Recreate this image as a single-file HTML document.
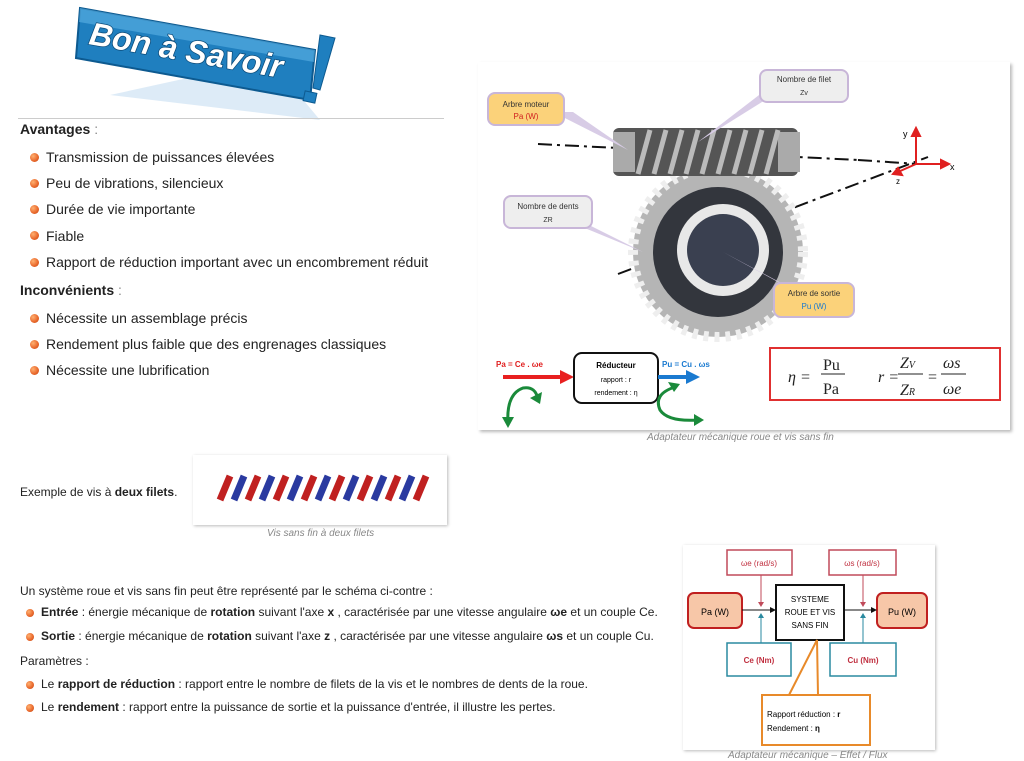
<!DOCTYPE html>
<html><head><meta charset="utf-8"><style>
body{margin:0;width:1024px;height:757px;background:#fff;position:relative;overflow:hidden;font-family:"Liberation Sans",sans-serif;color:#222}
.a{position:absolute;white-space:nowrap}
.t14{font-size:14px}
.t12{font-size:12px}
.bul{position:absolute;width:9px;height:9px;border-radius:50%;background:radial-gradient(circle at 35% 35%,#ffb070,#e8662a 60%,#b84a18)}
.cap{font-size:10px;color:#888;font-style:italic}
</style></head><body>
<!-- logo -->
<svg class="a" style="left:70px;top:0" width="275" height="120">
<polygon points="40,95 250,120 200,60" fill="#cfe3f3" opacity=".7"/>
<polygon points="10,8 245,50 240,100 6,58" fill="#1f7fbf" stroke="#0d5a90" stroke-width="2"/>
<polygon points="10,8 245,50 244,62 9,22" fill="#5db3e6" opacity=".6"/>
<text x="18" y="44" font-family="Liberation Sans" font-weight="bold" font-style="italic" font-size="32" fill="#fff" stroke="#0b4a78" stroke-width="1.5" paint-order="stroke" transform="rotate(10 18 44)">Bon à Savoir</text>
<polygon points="250,35 265,38 250,90 243,88" fill="#1f7fbf" stroke="#0d5a90"/>
<rect x="234" y="92" width="12" height="10" fill="#1f7fbf" stroke="#0d5a90" transform="rotate(12 240 97)"/>
</svg>
<div class="a" style="left:18px;top:118px;width:426px;border-top:1px solid #ccc"></div>
<div class="a t14" style="left:20px;top:121px"><b>Avantages</b> <span style="color:#888">:</span></div>
<div class="bul" style="left:30px;top:153px"></div><div class="a t14" style="left:46px;top:149px">Transmission de puissances élevées</div>
<div class="bul" style="left:30px;top:179px"></div><div class="a t14" style="left:46px;top:175px">Peu de vibrations, silencieux</div>
<div class="bul" style="left:30px;top:205px"></div><div class="a t14" style="left:46px;top:201px">Durée de vie importante</div>
<div class="bul" style="left:30px;top:231px"></div><div class="a t14" style="left:46px;top:228px">Fiable</div>
<div class="bul" style="left:30px;top:258px"></div><div class="a t14" style="left:46px;top:254px">Rapport de réduction important avec un encombrement réduit</div>
<div class="a t14" style="left:20px;top:282px"><b>Inconvénients</b> <span style="color:#888">:</span></div>
<div class="bul" style="left:30px;top:314px"></div><div class="a t14" style="left:46px;top:310px">Nécessite un assemblage précis</div>
<div class="bul" style="left:30px;top:340px"></div><div class="a t14" style="left:46px;top:336px">Rendement plus faible que des engrenages classiques</div>
<div class="bul" style="left:30px;top:366px"></div><div class="a t14" style="left:46px;top:362px">Nécessite une lubrification</div>

<!-- right figure -->
<div class="a" style="left:478px;top:62px;width:532px;height:368px;background:#fff;box-shadow:2px 2px 3px #bbb"></div>
<svg class="a" style="left:478px;top:62px" width="534" height="370" font-family="Liberation Sans">
<line x1="60" y1="82" x2="380" y2="98" stroke="#111" stroke-width="2" stroke-dasharray="14,5,3,5"/>
<line x1="380" y1="98" x2="440" y2="102" stroke="#111" stroke-width="2" stroke-dasharray="14,5,3,5"/>
<line x1="140" y1="212" x2="450" y2="95" stroke="#111" stroke-width="2" stroke-dasharray="14,5,3,5"/>
<circle cx="240" cy="190" r="85" fill="#b5b5b5"/>
<circle cx="240" cy="190" r="85" fill="none" stroke="#eee" stroke-width="10" stroke-dasharray="5,6"/>
<circle cx="240" cy="190" r="65" fill="#33363d"/>
<circle cx="245" cy="188" r="46" fill="#e8e8e8"/>
<circle cx="245" cy="188" r="36" fill="#3a4050"/>
<rect x="135" y="66" width="185" height="48" rx="6" fill="#555"/>
<rect x="135" y="70" width="22" height="40" fill="#aaa"/>
<rect x="300" y="70" width="22" height="40" fill="#aaa"/>
<g stroke="#bbb" stroke-width="5">
<line x1="160" y1="112" x2="172" y2="68"/><line x1="176" y1="112" x2="188" y2="68"/><line x1="192" y1="112" x2="204" y2="68"/><line x1="208" y1="112" x2="220" y2="68"/><line x1="224" y1="112" x2="236" y2="68"/><line x1="240" y1="112" x2="252" y2="68"/><line x1="256" y1="112" x2="268" y2="68"/><line x1="272" y1="112" x2="284" y2="68"/><line x1="288" y1="112" x2="300" y2="68"/></g>
<polygon points="75,50 95,50 150,88" fill="#d8cce6"/>
<rect x="10" y="31" width="76" height="32" rx="7" fill="#fbd27a" stroke="#c8b6d8" stroke-width="2"/>
<text x="48" y="45" font-size="8" text-anchor="middle" fill="#333">Arbre moteur</text>
<text x="48" y="57" font-size="8" text-anchor="middle" fill="#d02020">Pa (W)</text>
<polygon points="285,30 300,30 220,80" fill="#d8cce6"/>
<rect x="282" y="8" width="88" height="32" rx="7" fill="#eee" stroke="#c8b6d8" stroke-width="2"/>
<text x="326" y="20" font-size="8" text-anchor="middle" fill="#333">Nombre de filet</text>
<text x="326" y="33" font-size="7" text-anchor="middle" fill="#333">Zv</text>
<polygon points="80,155 95,155 165,190" fill="#d8cce6"/>
<rect x="26" y="134" width="88" height="32" rx="7" fill="#eee" stroke="#c8b6d8" stroke-width="2"/>
<text x="70" y="147" font-size="8" text-anchor="middle" fill="#333">Nombre de dents</text>
<text x="70" y="160" font-size="7" text-anchor="middle" fill="#333">ZR</text>
<polygon points="300,220 320,230 245,190" fill="#d8cce6"/>
<rect x="296" y="221" width="80" height="34" rx="7" fill="#fbd27a" stroke="#c8b6d8" stroke-width="2"/>
<text x="336" y="234" font-size="8" text-anchor="middle" fill="#333">Arbre de sortie</text>
<text x="336" y="247" font-size="8" text-anchor="middle" fill="#1a7ad0">Pu (W)</text>
<g stroke="#e02020" stroke-width="2" fill="#e02020">
<line x1="438" y1="102" x2="438" y2="72"/><polygon points="434,74 442,74 438,66"/>
<line x1="438" y1="102" x2="465" y2="102"/><polygon points="463,98 463,106 471,102"/>
<line x1="438" y1="102" x2="420" y2="110"/><polygon points="420,106 424,113 415,112"/></g>
<text x="425" y="75" font-size="9">y</text><text x="472" y="108" font-size="9">x</text><text x="418" y="122" font-size="8">z</text>
<text x="18" y="305" font-size="8" fill="#e02020" font-weight="bold">Pa = Ce . ωe</text>
<line x1="25" y1="315" x2="85" y2="315" stroke="#e82020" stroke-width="4"/><polygon points="82,308 96,315 82,322" fill="#e82020"/>
<rect x="96" y="291" width="84" height="50" rx="8" fill="#fff" stroke="#111" stroke-width="2"/>
<text x="138" y="306" font-size="8" text-anchor="middle" font-weight="bold">Réducteur</text>
<text x="138" y="320" font-size="7" text-anchor="middle">rapport : r</text>
<text x="138" y="333" font-size="7" text-anchor="middle">rendement : η</text>
<text x="184" y="305" font-size="8" fill="#1a7ad0" font-weight="bold">Pu = Cu . ωs</text>
<line x1="180" y1="315" x2="212" y2="315" stroke="#1a7ad0" stroke-width="4"/><polygon points="208,308 222,315 208,322" fill="#1a7ad0"/>
<path d="M30,362 Q28,332 45,326 Q58,324 60,338" fill="none" stroke="#1a8a3a" stroke-width="3"/>
<polygon points="24,355 36,355 30,366" fill="#1a8a3a"/><polygon points="52,336 64,330 62,342" fill="#1a8a3a"/>
<path d="M197,325 Q175,332 182,348 Q190,360 220,358" fill="none" stroke="#1a8a3a" stroke-width="3"/>
<polygon points="216,352 226,358 216,364" fill="#1a8a3a"/><polygon points="190,320 202,322 196,330" fill="#1a8a3a"/>
<rect x="292" y="286" width="230" height="52" fill="#fff" stroke="#e03030" stroke-width="2"/>
<g font-family="Liberation Serif" font-size="16" fill="#222">
<text x="310" y="320" font-style="italic">η =</text>
<text x="345" y="308">Pu</text><line x1="343" y1="312" x2="367" y2="312" stroke="#222"/><text x="345" y="332">Pa</text>
<text x="400" y="320" font-style="italic">r =</text>
<text x="422" y="306" font-style="italic">Z<tspan font-size="10">V</tspan></text><line x1="420" y1="312" x2="445" y2="312" stroke="#222"/><text x="422" y="333" font-style="italic">Z<tspan font-size="10">R</tspan></text>
<text x="450" y="320">=</text>
<text x="465" y="306" font-style="italic">ωs</text><line x1="463" y1="312" x2="488" y2="312" stroke="#222"/><text x="465" y="332" font-style="italic">ωe</text>
</g>
</svg>
<div class="a cap" style="left:647px;top:432px">Adaptateur mécanique roue et vis sans fin</div>

<div class="a" style="left:20px;top:485px;font-size:12px">Exemple de vis à <b>deux filets</b>.</div>
<div class="a" style="left:193px;top:455px;width:254px;height:70px;background:#fff;box-shadow:1px 1px 3px #bbb"></div>
<svg class="a" style="left:215px;top:470px" width="225" height="36">
<g stroke-width="7">
<line x1="5" y1="30" x2="15" y2="6" stroke="#c02020"/><line x1="19" y1="30" x2="29" y2="6" stroke="#2a3aa0"/><line x1="33" y1="30" x2="43" y2="6" stroke="#c02020"/><line x1="47" y1="30" x2="57" y2="6" stroke="#2a3aa0"/><line x1="61" y1="30" x2="71" y2="6" stroke="#c02020"/><line x1="75" y1="30" x2="85" y2="6" stroke="#2a3aa0"/><line x1="89" y1="30" x2="99" y2="6" stroke="#c02020"/><line x1="103" y1="30" x2="113" y2="6" stroke="#2a3aa0"/><line x1="117" y1="30" x2="127" y2="6" stroke="#c02020"/><line x1="131" y1="30" x2="141" y2="6" stroke="#2a3aa0"/><line x1="145" y1="30" x2="155" y2="6" stroke="#c02020"/><line x1="159" y1="30" x2="169" y2="6" stroke="#2a3aa0"/><line x1="173" y1="30" x2="183" y2="6" stroke="#c02020"/><line x1="187" y1="30" x2="197" y2="6" stroke="#2a3aa0"/><line x1="201" y1="30" x2="211" y2="6" stroke="#c02020"/></g></svg>
<div class="a cap" style="left:267px;top:528px">Vis sans fin à deux filets</div>

<div class="a t12" style="left:20px;top:584px">Un système roue et vis sans fin peut être représenté par le schéma ci-contre :</div>
<div class="bul" style="left:26px;top:609px;width:8px;height:8px"></div>
<div class="a t12" style="left:41px;top:605px"><b>Entrée</b> : énergie mécanique de <b>rotation</b> suivant l'axe <b>x</b> , caractérisée par une vitesse angulaire <b>ωe</b> et un couple Ce.</div>
<div class="bul" style="left:26px;top:633px;width:8px;height:8px"></div>
<div class="a t12" style="left:41px;top:629px"><b>Sortie</b> : énergie mécanique de <b>rotation</b> suivant l'axe <b>z</b> , caractérisée par une vitesse angulaire <b>ωs</b> et un couple Cu.</div>
<div class="a t12" style="left:20px;top:654px">Paramètres :</div>
<div class="bul" style="left:26px;top:681px;width:8px;height:8px"></div>
<div class="a t12" style="left:41px;top:677px">Le <b>rapport de réduction</b> : rapport entre le nombre de filets de la vis et le nombres de dents de la roue.</div>
<div class="bul" style="left:26px;top:704px;width:8px;height:8px"></div>
<div class="a t12" style="left:41px;top:700px">Le <b>rendement</b> : rapport entre la puissance de sortie et la puissance d'entrée, il illustre les pertes.</div>

<div class="a" style="left:683px;top:545px;width:252px;height:205px;background:#fff;box-shadow:1px 1px 3px #bbb"></div>
<svg class="a" style="left:683px;top:545px" width="252" height="212" font-family="Liberation Sans">
<rect x="44" y="5" width="65" height="25" fill="#fff" stroke="#c04a5a" stroke-width="1.5"/>
<text x="76" y="21" font-size="8" text-anchor="middle" fill="#c03040">ωe (rad/s)</text>
<rect x="146" y="5" width="67" height="25" fill="#fff" stroke="#c04a5a" stroke-width="1.5"/>
<text x="179" y="21" font-size="8" text-anchor="middle" fill="#c03040">ωs (rad/s)</text>
<rect x="5" y="48" width="54" height="35" rx="6" fill="#f7c7a8" stroke="#c02020" stroke-width="2"/>
<text x="32" y="70" font-size="9" text-anchor="middle">Pa (W)</text>
<rect x="194" y="48" width="50" height="35" rx="6" fill="#f7c7a8" stroke="#c02020" stroke-width="2"/>
<text x="219" y="70" font-size="9" text-anchor="middle">Pu (W)</text>
<rect x="93" y="40" width="68" height="55" fill="#fff" stroke="#111" stroke-width="2"/>
<text x="127" y="57" font-size="8" text-anchor="middle">SYSTEME</text>
<text x="127" y="70" font-size="8" text-anchor="middle">ROUE ET VIS</text>
<text x="127" y="83" font-size="8" text-anchor="middle">SANS FIN</text>
<line x1="59" y1="65" x2="90" y2="65" stroke="#111"/><polygon points="87,62 93,65 87,68" fill="#111"/>
<line x1="161" y1="65" x2="191" y2="65" stroke="#111"/><polygon points="188,62 194,65 188,68" fill="#111"/>
<line x1="78" y1="30" x2="78" y2="60" stroke="#c04a5a"/><polygon points="75,57 78,62 81,57" fill="#c04a5a"/>
<line x1="180" y1="30" x2="180" y2="60" stroke="#c04a5a"/><polygon points="177,57 180,62 183,57" fill="#c04a5a"/>
<rect x="44" y="98" width="64" height="33" fill="#fff" stroke="#2a8aa0" stroke-width="1.5"/>
<text x="76" y="118" font-size="8" text-anchor="middle" fill="#c03040" font-weight="bold">Ce (Nm)</text>
<rect x="147" y="98" width="66" height="33" fill="#fff" stroke="#2a8aa0" stroke-width="1.5"/>
<text x="180" y="118" font-size="8" text-anchor="middle" fill="#c03040" font-weight="bold">Cu (Nm)</text>
<line x1="78" y1="98" x2="78" y2="70" stroke="#2a8aa0"/><polygon points="75,73 78,68 81,73" fill="#2a8aa0"/>
<line x1="180" y1="98" x2="180" y2="70" stroke="#2a8aa0"/><polygon points="177,73 180,68 183,73" fill="#2a8aa0"/>
<polyline points="106,150 134,95 135,150" fill="none" stroke="#e88a2a" stroke-width="2"/>
<rect x="79" y="150" width="108" height="50" fill="#fff" stroke="#e88a2a" stroke-width="2"/>
<text x="84" y="172" font-size="8">Rapport réduction : <tspan font-weight="bold">r</tspan></text>
<text x="84" y="186" font-size="8">Rendement : <tspan font-weight="bold">η</tspan></text>
</svg>
<div class="a cap" style="left:728px;top:750px">Adaptateur mécanique – Effet / Flux</div>
</body></html>
